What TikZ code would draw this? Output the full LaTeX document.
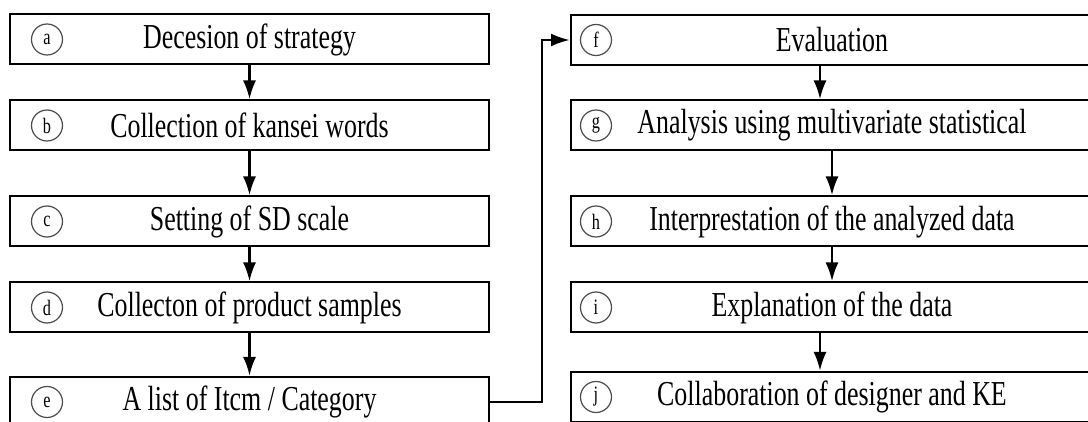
\documentclass[tikz,border=0pt]{standalone}
\usepackage{fontspec}
\setmainfont{Liberation Serif}[FakeStretch=0.74]
\usetikzlibrary{arrows.meta}

\newcommand{\stagefont}{\fontsize{17.5}{19}\selectfont}
\newcommand{\tagfont}{\fontsize{11}{12}\selectfont}

\begin{document}
\begin{tikzpicture}[x=0.5pt, y=-0.5pt,
		stage/.style={draw, line width=1pt, minimum height=25pt, inner sep=0pt, font=\stagefont},
		leftstage/.style={stage, minimum width=239.5pt},
		rightstage/.style={stage, minimum width=261pt},
		tag/.style={circle, draw=black!70, line width=0.6pt, minimum size=15.5pt, inner sep=0pt, font=\tagfont},
		flow/.style={-{Latex[length=9.5pt, width=6.5pt]}, line width=1.4pt}]
		\useasboundingbox (0,0) rectangle (1088,422);
		\clip (0,0) rectangle (1088,422);

		% left column
		\node[leftstage] (a) at (249.5, 39.5) {Decesion of strategy};
		\node[leftstage] (b) at (249.5, 125.5) {Collection of kansei words};
		\node[leftstage] (c) at (249.5, 221.5) {Setting of SD scale};
		\node[leftstage] (d) at (249.5, 307.5) {Collecton of product samples};
		\node[leftstage] (e) at (249.5, 402) {A list of Itcm / Category};

		% right column
		\node[rightstage] (f) at (832, 40) {Evaluation};
		\node[rightstage] (g) at (832, 125.5) {Analysis using multivariate statistical};
		\node[rightstage] (h) at (832, 221.5) {Interprestation of the analyzed data};
		\node[rightstage] (i) at (832, 307.5) {Explanation of the data};
		\node[rightstage] (j) at (832, 397) {Collaboration of designer and KE};

		% circled letters
		\foreach \s in {a, b, c, d, e}
			\node[tag] (t\s) at (47, 0 |- \s) {\s};
		\foreach \s in {f, g, h, i, j}
			\node[tag] (t\s) at (596, 0 |- \s) {\s};

		% arrows
		\draw[flow] (a) -- (b);
		\draw[flow] (b) -- (c);
		\draw[flow] (c) -- (d);
		\draw[flow] (d) -- (e);
		\draw[flow] ([xshift=-6pt]f.south) -- ([xshift=-6pt]g.north);
		\draw[flow] (g) -- (h);
		\draw[flow] (h) -- (i);
		\draw[flow] ([xshift=-6pt]i.south) -- ([xshift=-6pt]j.north);
		\draw[flow] (e.east) -- ++(52, 0) |- (f.west);
	\end{tikzpicture}
\end{document}
